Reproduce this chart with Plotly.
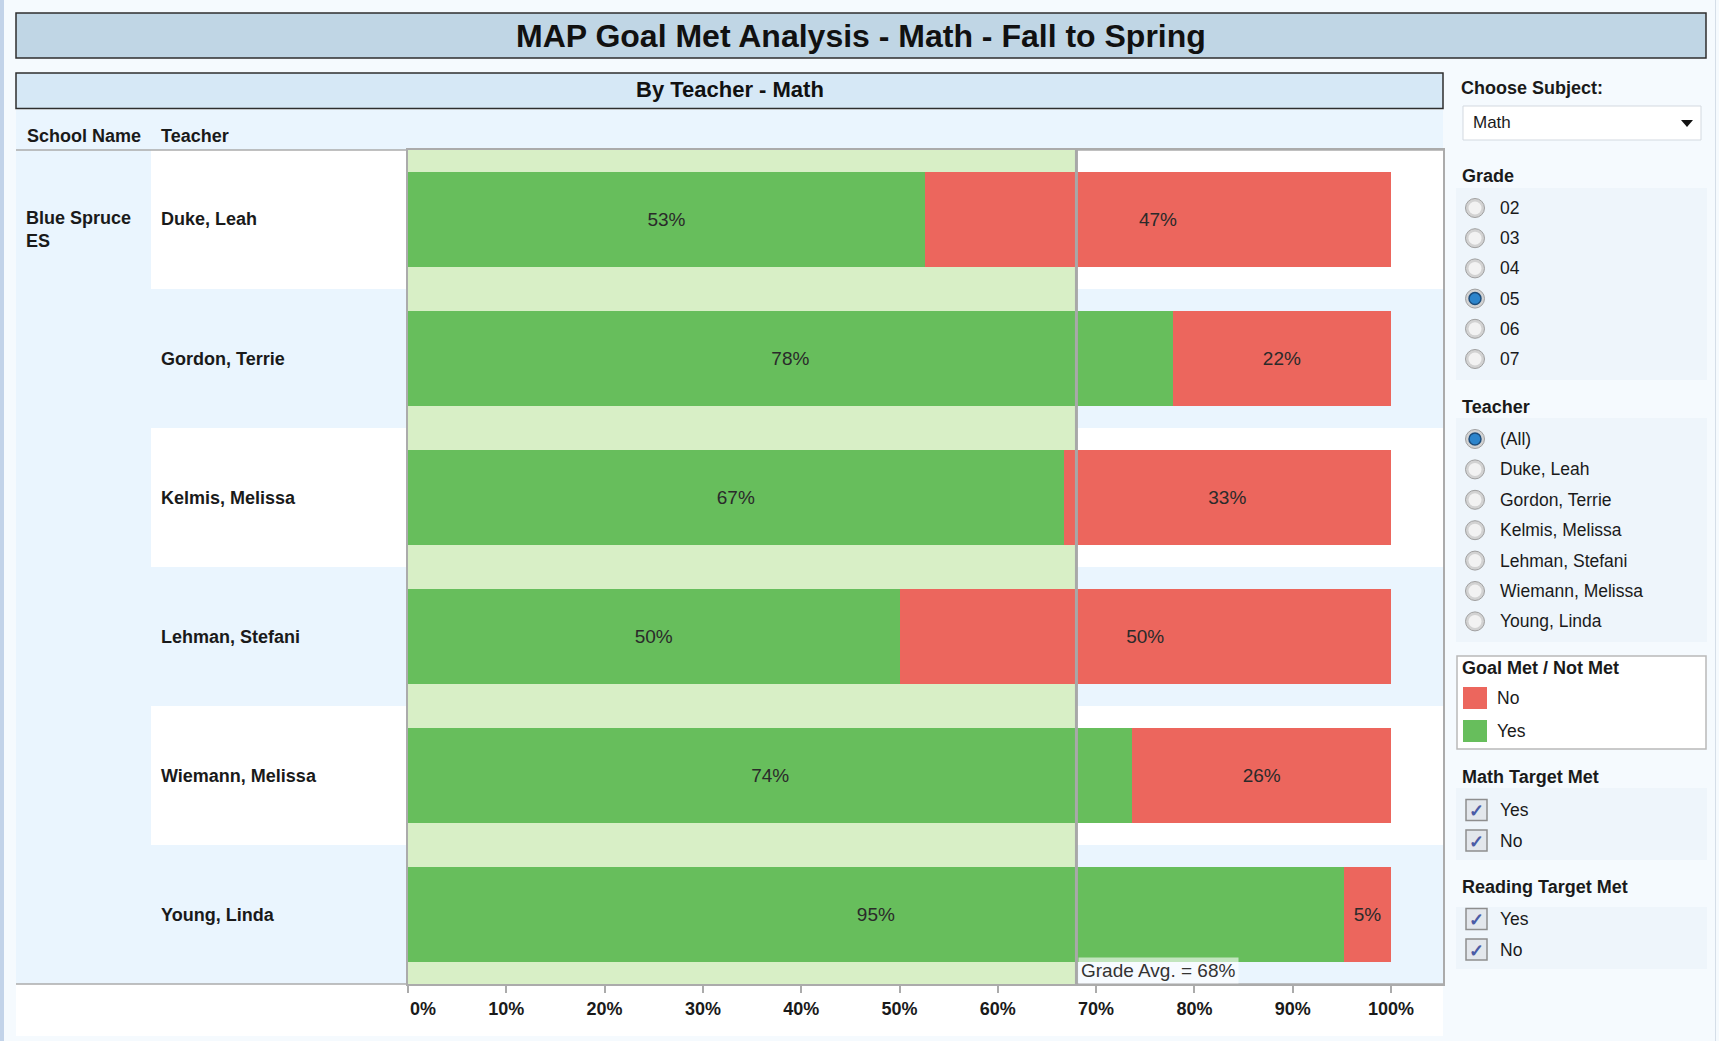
import plotly.graph_objects as go

# ---------------- data ----------------
school_name = "Blue Spruce ES"
teachers = ["Duke, Leah", "Gordon, Terrie", "Kelmis, Melissa",
            "Lehman, Stefani", "Wiemann, Melissa", "Young, Linda"]
goal_met_yes = [52.6, 77.8, 66.7, 50.0, 73.7, 95.2]   # % of students, goal met
goal_met_no = [47.4, 22.2, 33.3, 50.0, 26.3, 4.8]     # % of students, goal not met
grade_avg = 68
x_tick_vals = [0, 10, 20, 30, 40, 50, 60, 70, 80, 90, 100]
x_tick_labels = ["\u00a0" * 6 + "0%", "10%", "20%", "30%", "40%", "50%",
                 "60%", "70%", "80%", "90%", "100%"]
grades = ["02", "03", "04", "05", "06", "07"]
selected_grade = "05"
teacher_options = ["(All)"] + teachers
selected_teacher = "(All)"
legend_labels = ["No", "Yes"]
target_options = ["Yes", "No"]

# ---------------- style ----------------
W, H = 1719, 1041
FONT = "Liberation Sans, Arial, sans-serif"
GREEN = "#67BE5C"
RED = "#EC665D"
BAND = "#D8EFC6"
PAGE_BG = "#F5FAFE"
PANEL_BG = "#EAF5FE"
AXIS = "#ABABAB"
TXT = "#1A1A1A"


def fx(p):
    return p / W


def fy(p):
    return 1 - p / H


shapes = []
annotations = []


def rect(x0, y0, x1, y1, fill, line=None, lw=0, layer="below"):
    shapes.append(dict(type="rect", xref="paper", yref="paper",
                       x0=fx(x0), x1=fx(x1), y0=fy(y1), y1=fy(y0),
                       fillcolor=fill, line=dict(color=line or fill, width=lw),
                       layer=layer))


def circle(cx, cy, r, fill, line=None, lw=0):
    shapes.append(dict(type="circle", xref="paper", yref="paper",
                       x0=fx(cx - r), x1=fx(cx + r), y0=fy(cy + r), y1=fy(cy - r),
                       fillcolor=fill, line=dict(color=line or fill, width=lw),
                       layer="below"))


def hline(x0, x1, y, color=AXIS, lw=1.5):
    shapes.append(dict(type="line", xref="paper", yref="paper",
                       x0=fx(x0), x1=fx(x1), y0=fy(y), y1=fy(y),
                       line=dict(color=color, width=lw), layer="below"))


def text(x, y, s, size=18, bold=False, xanchor="left", color=TXT, align="left"):
    annotations.append(dict(xref="paper", yref="paper", x=fx(x), y=fy(y), text=s,
                            showarrow=False, xanchor=xanchor, yanchor="middle",
                            align=align,
                            font=dict(family=FONT, size=size, color=color,
                                      weight="bold" if bold else "normal")))


# ---------------- page frame ----------------
rect(0, 0, 4, H, "#C2D3E9")
shapes.append(dict(type="line", xref="paper", yref="paper", x0=fx(1715.5), x1=fx(1715.5),
                   y0=0, y1=1, line=dict(color="#D5DEE8", width=1), layer="below"))

# title box
rect(16, 13, 1706, 58, "#C0D6E5", line="#2E2E2E", lw=1.5)
text(861, 36, "MAP Goal Met Analysis - Math - Fall to Spring", size=32, bold=True,
     xanchor="center", color="#111111")

# sub-title box
rect(16, 73, 1443, 108.5, "#D6E8F6", line="#2E2E2E", lw=1.5)
text(729.5, 90, "By Teacher - Math", size=22, bold=True, xanchor="center", color="#111111")

# table panel + axis area
rect(16, 110, 1443, 984, PANEL_BG)
rect(16, 984, 1443, 1036, "#FFFFFF")

# alternating white rows (teacher column + plot)
for i in range(0, len(teachers), 2):
    shapes.append(dict(type="rect", xref="paper", yref="y",
                       x0=fx(151), x1=fx(1443), y0=i - 0.5, y1=i + 0.5,
                       fillcolor="#FFFFFF", line=dict(width=0), layer="below"))

hline(16, 1443, 150)
hline(16, 1443, 984)

# column headers
text(25, 136, "School Name", size=18, bold=True)
text(159, 136, "Teacher", size=18, bold=True)
text(24, 230, school_name.replace(" ES", "<br>ES"), size=18, bold=True)

for t in teachers:
    annotations.append(dict(xref="paper", yref="y", x=fx(159), y=t, text=t,
                            showarrow=False, xanchor="left", yanchor="middle",
                            font=dict(family=FONT, size=18, color=TXT, weight="bold")))

# reference band and line (data coordinates)
shapes.append(dict(type="rect", xref="x", yref="y", x0=0, x1=grade_avg,
                   y0=-0.5, y1=len(teachers) - 0.5, fillcolor=BAND,
                   line=dict(width=0), layer="below"))
shapes.append(dict(type="line", xref="x", yref="y", x0=grade_avg, x1=grade_avg,
                   y0=-0.5, y1=len(teachers) - 0.5,
                   line=dict(color="#A8A8A8", width=3), layer="above"))
annotations.append(dict(xref="x", yref="y domain", x=grade_avg, y=0,
                        text=f"Grade Avg. = {grade_avg}%", showarrow=False,
                        xanchor="left", yanchor="bottom", xshift=2,
                        bgcolor="rgba(255,255,255,0.6)", borderpad=2,
                        font=dict(family=FONT, size=19, color="#333333")))

# ---------------- sidebar ----------------
SB_X = 1460
text(SB_X - 1, 88, "Choose Subject:", size=18, bold=True)
rect(1463, 106, 1701, 140, "#FFFFFF", line="#D3D9E0", lw=1)
text(1471, 123, "Math", size=17)
shapes.append(dict(type="path", xref="paper", yref="paper",
                   path=f"M {fx(1681)} {fy(120)} L {fx(1693)} {fy(120)} L {fx(1687)} {fy(127)} Z",
                   fillcolor="#111111", line=dict(width=0), layer="below"))

ITEM_BG = "#EEF5FB"


def radio(y, selected):
    circle(1475, y, 9.5, "#D2D2D2", line="#A0A0A0", lw=1)
    circle(1475, y, 6.5, "#F2F2F2")
    if selected:
        circle(1475, y, 6, "#2C84CB", line="#1C4C7A", lw=1.5)


def checkbox(y):
    rect(1466, y - 10.5, 1487, y + 10.5, "#E3E7EC", line="#8E8E8E", lw=1.5)
    text(1476.5, y + 1, "✓", size=18, bold=True, xanchor="center", color="#4B5CA6")


# Grade filter
text(SB_X, 176, "Grade", size=18, bold=True)
rect(1456, 188, 1707, 380, ITEM_BG)
for k, g in enumerate(grades):
    yy = 208 + k * 30.2
    radio(yy, g == selected_grade)
    text(1498, yy, g, size=17.5)

# Teacher filter
text(SB_X, 407, "Teacher", size=18, bold=True)
rect(1456, 418, 1707, 642, ITEM_BG)
for k, t in enumerate(teacher_options):
    yy = 439 + k * 30.4
    radio(yy, t == selected_teacher)
    text(1498, yy, t, size=17.5)

# Colour legend
rect(1457, 656, 1706, 749, "#FFFFFF", line="#B9B9B9", lw=1.5)
text(SB_X, 668, "Goal Met / Not Met", size=18, bold=True)
legend_colors = [RED, GREEN]
for k, (lab, col) in enumerate(zip(legend_labels, legend_colors)):
    yy = 698 + k * 33
    rect(1463, yy - 11, 1487, yy + 11, col)
    text(1495, yy, lab, size=17.5)

# Target filters
text(SB_X, 777, "Math Target Met", size=18, bold=True)
rect(1456, 788, 1707, 860, ITEM_BG)
for k, o in enumerate(target_options):
    yy = 810 + k * 30.5
    checkbox(yy)
    text(1498, yy, o, size=17.5)

text(SB_X, 887, "Reading Target Met", size=18, bold=True)
rect(1456, 907, 1707, 969, ITEM_BG)
for k, o in enumerate(target_options):
    yy = 919 + k * 30.5
    checkbox(yy)
    text(1498, yy, o, size=17.5)

# ---------------- bars ----------------
fig = go.Figure()
fig.add_bar(y=teachers, x=goal_met_yes, orientation="h", name="Yes",
            marker=dict(color=GREEN, line=dict(width=0)),
            text=[f"{round(v)}%" for v in goal_met_yes],
            textposition="inside", insidetextanchor="middle", textangle=0,
            textfont=dict(family=FONT, size=19, color="#2A2A2A"),
            hoverinfo="skip")
fig.add_bar(y=teachers, x=goal_met_no, orientation="h", name="No",
            marker=dict(color=RED, line=dict(width=0)),
            text=[f"{round(v)}%" for v in goal_met_no],
            textposition="inside", insidetextanchor="middle", textangle=0,
            textfont=dict(family=FONT, size=19, color="#2A2A2A"),
            hoverinfo="skip")

fig.update_layout(
    width=W, height=H, margin=dict(l=0, r=0, t=0, b=0, pad=0),
    paper_bgcolor=PAGE_BG, plot_bgcolor="rgba(0,0,0,0)",
    barmode="stack", bargap=0.31, showlegend=False,
    shapes=shapes, annotations=annotations,
    xaxis=dict(domain=[fx(408), fx(1443)], range=[0, 105.29], automargin=False,
               tickvals=x_tick_vals, ticktext=x_tick_labels,
               ticks="outside", ticklen=7, tickwidth=1.5, tickcolor=AXIS,
               showline=True, linecolor=AXIS, linewidth=1.5, mirror=True,
               showgrid=False, zeroline=False, ticklabelstandoff=1,
               tickfont=dict(family=FONT, size=18, color=TXT, weight="bold"),
               fixedrange=True),
    yaxis=dict(domain=[fy(984), fy(150)], type="category", automargin=False,
               categoryorder="array", categoryarray=teachers,
               range=[len(teachers) - 0.5, -0.5],
               showticklabels=False, ticks="", showline=True, linecolor=AXIS,
               linewidth=1.5, mirror=True, showgrid=False, zeroline=False,
               fixedrange=True),
)

fig.write_html("out.html", config={"displayModeBar": False, "responsive": False},
               post_script="document.body.style.margin='0';document.body.style.overflow='hidden';")
